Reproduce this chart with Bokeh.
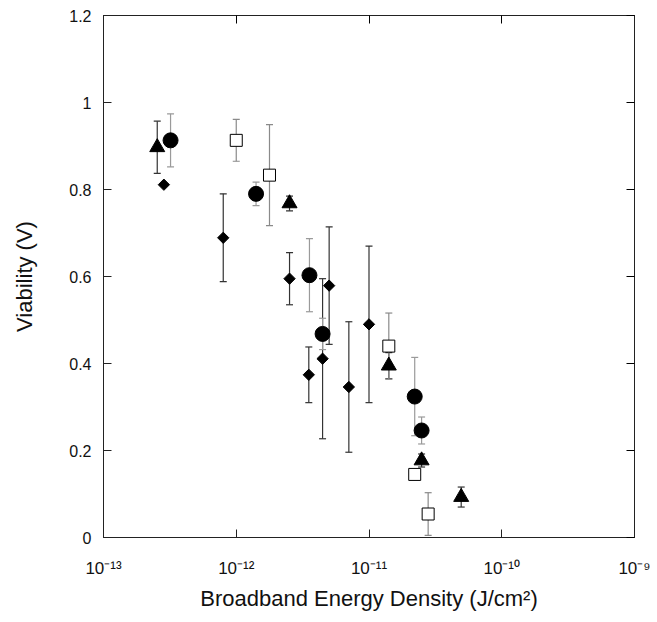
import math
from bokeh.plotting import figure
from bokeh.models import FixedTicker, LogAxis, LinearAxis, CustomJSTickFormatter
from bokeh.embed import file_html
from bokeh.resources import INLINE

# ---- data ----
tri_x = [2.54e-13, 2.52e-12, 1.41e-11, 2.49e-11, 4.95e-11]
tri_y = [0.897, 0.768, 0.395, 0.177, 0.093]
tri_err = [0.060, 0.017, 0.030, 0.015, 0.023]

circ_x = [3.2e-13, 1.41e-12, 3.56e-12, 4.47e-12, 2.21e-11, 2.49e-11]
circ_y = [0.913, 0.790, 0.603, 0.468, 0.324, 0.246]
circ_err = [0.061, 0.027, 0.084, 0.036, 0.090, 0.031]

sq_x = [1.0e-12, 1.78e-12, 1.41e-11, 2.21e-11, 2.79e-11]
sq_y = [0.913, 0.833, 0.440, 0.145, 0.054]
sq_err = [0.048, 0.116, 0.076, 0.010, 0.049]

dia_x = [2.85e-13, 7.98e-13, 2.52e-12, 3.52e-12, 4.47e-12, 5.01e-12, 7.05e-12, 1.0e-11]
dia_y = [0.811, 0.689, 0.595, 0.374, 0.411, 0.579, 0.346, 0.490]
dia_err = [0.0, 0.101, 0.060, 0.064, 0.184, 0.135, 0.150, 0.180]

x_ticks = [1e-13, 1e-12, 1e-11, 1e-10, 1e-9]
x_tick_labels = ["10\u207b\u00b9\u00b3", "10\u207b\u00b9\u00b2", "10\u207b\u00b9\u00b9",
                 "10\u207b\u00b9\u2070", "10\u207b\u2079"]
y_ticks = [0, 0.2, 0.4, 0.6, 0.8, 1.0, 1.2]
y_tick_labels = ["0", "0.2", "0.4", "0.6", "0.8", "1", "1.2"]

FONT = "Liberation Sans"

p = figure(width=652, height=617, x_axis_type="log",
           x_range=(1e-13, 1e-9), y_range=(0, 1.2),
           output_backend="svg", toolbar_location=None,
           min_border_left=103, min_border_top=15, min_border_right=18,
           min_border_bottom=80)
p.grid.visible = False
p.outline_line_color = "#222222"
p.background_fill_color = "white"
p.border_fill_color = "white"

# axes
xa = p.xaxis[0]
xa.ticker = FixedTicker(ticks=x_ticks)
xa.major_label_overrides = {t: l for t, l in zip(x_ticks, x_tick_labels)}
ya = p.yaxis[0]
ya.ticker = FixedTicker(ticks=y_ticks)
ya.major_label_overrides = {t: l for t, l in zip(y_ticks, y_tick_labels)}

for ax in (xa, ya):
    ax.major_tick_in = 8
    ax.major_tick_out = 0
    ax.minor_tick_line_color = None
    ax.axis_line_color = "#222222"
    ax.major_tick_line_color = "#222222"
    ax.major_label_text_font = FONT
    ax.major_label_text_font_size = "16px"
    ax.major_label_text_color = "#111111"
    ax.axis_label_text_font = FONT
    ax.axis_label_text_font_size = "22px"
    ax.axis_label_text_font_style = "normal"
    ax.axis_label_text_color = "#111111"

xa.major_label_text_font_size = "17px"
xa.axis_label = "Broadband Energy Density (J/cm\u00b2)"
xa.major_label_standoff = 21
xa.axis_label_standoff = 5
ya.axis_label = "Viability (V)"
ya.major_label_standoff = 12
ya.axis_label_standoff = 29

empty = CustomJSTickFormatter(code="return ''")
top = LogAxis(ticker=FixedTicker(ticks=x_ticks), formatter=empty,
              major_tick_in=8, major_tick_out=0, minor_tick_line_color=None,
              axis_line_color="#222222", major_label_standoff=0)
right = LinearAxis(ticker=FixedTicker(ticks=y_ticks), formatter=empty,
                   major_tick_in=8, major_tick_out=0, minor_tick_line_color=None,
                   axis_line_color="#222222", major_label_standoff=0)
p.add_layout(top, "above")
p.add_layout(right, "right")


def errorbars(xs, ys, es, color):
    bx = [x for x, e in zip(xs, es) if e > 0]
    lo = [y - e for y, e in zip(ys, es) if e > 0]
    hi = [y + e for y, e in zip(ys, es) if e > 0]
    p.segment(x0=bx, y0=lo, x1=bx, y1=hi, line_color=color, line_width=1.2)
    p.scatter(x=bx + bx, y=lo + hi, marker="dash", size=7,
              line_color=color, line_width=1.2)


errorbars(dia_x, dia_y, dia_err, "#333333")
errorbars(tri_x, tri_y, tri_err, "#333333")
errorbars(circ_x, circ_y, circ_err, "#9a9a9a")
errorbars(sq_x, sq_y, sq_err, "#8a8a8a")

p.scatter(x=dia_x, y=dia_y, marker="square", size=8, angle=math.pi / 4,
          fill_color="black", line_color="black")
p.scatter(x=tri_x, y=tri_y, marker="triangle", size=15,
          fill_color="black", line_color="black")
p.scatter(x=circ_x, y=circ_y, marker="circle", size=15,
          fill_color="black", line_color="black")
p.scatter(x=sq_x, y=sq_y, marker="square", size=12,
          fill_color="white", line_color="black", line_width=1)

open("out.html", "w").write(file_html(p, INLINE))
